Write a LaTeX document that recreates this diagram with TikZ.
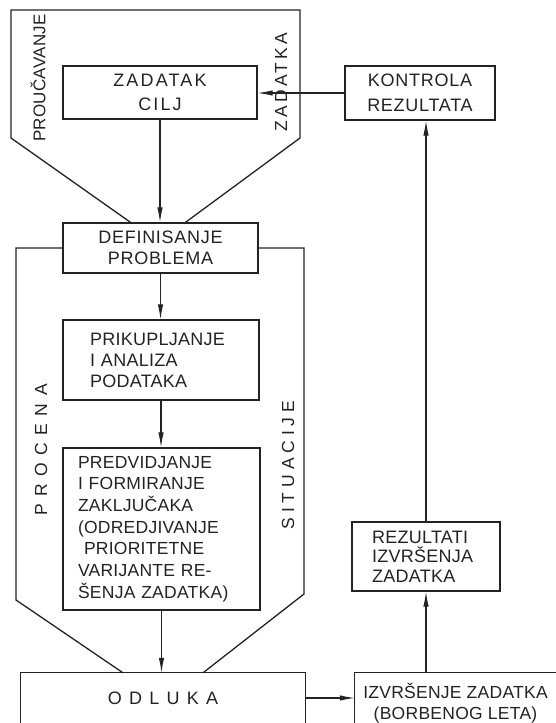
\documentclass[tikz,border=0pt]{standalone}
\usepackage{fontspec}
\setmainfont{Liberation Sans}
\newfontfamily\labA[LetterSpace=4]{Liberation Sans}
\newfontfamily\labB[LetterSpace=1.5]{Liberation Sans}
\newfontfamily\labZ[LetterSpace=12]{Liberation Sans}
\newfontfamily\labS[LetterSpace=28]{Liberation Sans}
\newfontfamily\labP[LetterSpace=43]{Liberation Sans}
\newfontfamily\labO[LetterSpace=40]{Liberation Sans}
\newfontfamily\labT[LetterSpace=18]{Liberation Sans}
\usetikzlibrary{arrows.meta,calc}
\definecolor{ink}{RGB}{35,35,35}
\tikzset{
  box/.style={draw=ink, line width=1.3pt, inner sep=0pt, text=ink},
  openbox/.style={inner sep=0pt, text=ink},
  conn/.style={draw=ink, line width=1.1pt, -{Latex[length=15pt,width=5.5pt]}},
  funnel/.style={draw=ink, line width=1.3pt, line join=miter},
  lbl/.style={inner sep=0pt, text=ink, rotate=90}
}
\begin{document}
\begin{tikzpicture}[x=1pt,y=-1pt]
\useasboundingbox (0,0) rectangle (556,723);
\fill[white] (0,0) rectangle (556,723);

% boxes
\node[box, minimum width=194pt, minimum height=53pt, align=center,
      font=\labZ\fontsize{18}{24}\selectfont] (zad) at (160,92.5) {ZADATAK\\CILJ};
\node[box, minimum width=150pt, minimum height=54pt, align=center,
      font=\labA\fontsize{18}{25}\selectfont] (kon) at (420,93) {KONTROLA\\REZULTATA};
\node[box, minimum width=195pt, minimum height=50pt, align=center,
      font=\labA\fontsize{18}{20.5}\selectfont] (def) at (160.5,248) {DEFINISANJE\\PROBLEMA};
\node[box, minimum width=196pt, minimum height=80pt, text width=142pt, align=left,
      font=\labB\fontsize{18}{21}\selectfont] (pri) at (161,360) {PRIKUPLJANJE\\I ANALIZA\\PODATAKA};
\node[box, minimum width=197pt, minimum height=162pt, text width=167pt, align=left,
      font=\labB\fontsize{17.5}{21.7}\selectfont] (pre) at (161.5,529)
      {PREDVIDJANJE\\I FORMIRANJE\\ZAKLJUČAKA\\(ODREDJIVANJE\\\hspace*{6pt}PRIORITETNE\\VARIJANTE RE-\\ŠENJA ZADATKA)};
\node[openbox, minimum width=284pt, minimum height=50pt,
      font=\labO\fontsize{18}{22}\selectfont] (odl) at (163,698) {ODLUKA};
\node[openbox, minimum width=201pt, minimum height=60pt, align=center,
      font=\labB\fontsize{17.5}{21}\selectfont] (izv) at (455.5,703) {IZVRŠENJE ZADATKA\\(BORBENOG LETA)};
\node[box, minimum width=148pt, minimum height=69pt, text width=108pt, align=left,
      font=\labB\fontsize{18}{19.5}\selectfont] (rez) at (426,556.5) {REZULTATI\\IZVRŠENJA\\ZADATKA};

% open-bottom boxes cut by the page edge
\draw[funnel] (odl.south west) -- (odl.north west) -- (odl.north east) -- (odl.south east);
\draw[funnel] (izv.west |- odl.south) -- (izv.north west) -- (izv.north east);

% funnels
\draw[funnel] ($(def.north)+(-30,0)$) -- (11,138) -- (11,10) -- (300,10) -- (300,138) -- ($(def.north)+(25,0)$);
\draw[funnel] (def.west) -- (16,248) -- (16,600) -- ($(odl.north)+(-40,0)$);
\draw[funnel] (def.east) -- (304,248) -- (304,594) -- ($(odl.north)+(40,0)$);

% rotated labels
\node[lbl, font=\labB\fontsize{17}{20}\selectfont] (t1) at (38,78) {PROUČAVANJE};
\node[lbl, font=\labT\fontsize{17.5}{20}\selectfont] (t2) at (281,82) {ZADATKA};
\node[lbl, font=\labP\fontsize{17.5}{20}\selectfont] (t3) at (41,450) {PROCENA};
\node[lbl, font=\labS\fontsize{17.5}{20}\selectfont] (t4) at (288,465) {SITUACIJE};

% connectors
\draw[conn] (zad.south) -- (zad.south |- def.north);
\draw[conn] (kon.west) -- (kon.west -| zad.east);
\draw[conn] (def.south) -- (def.south |- pri.north);
\draw[conn] (pri.south) -- (pri.south |- pre.north);
\draw[conn] (pre.south) -- (pre.south |- odl.north);
\draw[conn] (odl.east) -- (odl.east -| izv.west);
\draw[conn] (rez.south |- izv.north) -- (rez.south);
\draw[conn] (rez.north) -- (rez.north |- kon.south);
\end{tikzpicture}
\end{document}
